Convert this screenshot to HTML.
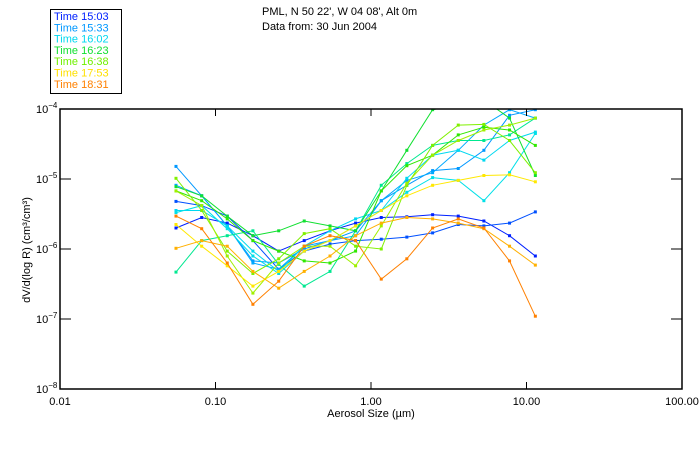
<!DOCTYPE html>
<html>
<head>
<meta charset="utf-8">
<style>
  html,body{margin:0;padding:0;background:#fff;}
  body{width:700px;height:450px;overflow:hidden;font-family:"Liberation Sans","DejaVu Sans",sans-serif;}
  svg text{font-family:"Liberation Sans","DejaVu Sans",sans-serif;font-size:11px;}
</style>
</head>
<body>
<svg id="chart" width="700" height="450" viewBox="0 0 700 450" xmlns="http://www.w3.org/2000/svg">
  <rect x="0" y="0" width="700" height="450" fill="#fff"/>
  <g id="legend">
    <rect x="50.5" y="9.5" width="71" height="84" fill="none" stroke="#000"/>
  </g>
  <text x="262" y="15" fill="#000">PML, N 50 22', W 04 08', Alt 0m</text>
  <text x="262" y="30" fill="#000">Data from: 30 Jun 2004</text>
  <g id="plot"></g>
  <g id="axes"></g>
  <text x="371" y="417" text-anchor="middle" fill="#000">Aerosol Size (µm)</text>
  <text transform="translate(30,250) rotate(-90)" text-anchor="middle" fill="#000">dV/d(log R) (cm³/cm³)</text>
</svg>
<script>
// Particle sizes (µm)
const sizes = [0.0557,0.0815,0.119,0.174,0.255,0.372,0.545,0.796,1.164,1.70,2.49,3.64,5.32,7.78,11.4];
// log10 of dV/d(log R) per series
const seriesA1 = [-5.70,-5.55,-5.63,-5.81,-6.03,-5.88,-5.74,-5.63,-5.55,-5.54,-5.51,-5.53,-5.60,-5.81,-6.10];
const seriesA2 = [-5.32,-5.38,-5.53,-5.88,-6.29,-6.03,-5.93,-5.88,-5.86,-5.83,-5.77,-5.65,-5.67,-5.63,-5.47];
const seriesB1 = [-4.82,-5.24,-5.67,-6.17,-6.20,-6.00,-5.88,-5.74,-5.31,-5.09,-4.88,-4.85,-4.59,-4.09,-4.01];
const seriesB2 = [-5.09,-5.24,-5.67,-6.20,-6.29,-5.96,-5.88,-5.81,-5.31,-5.02,-4.91,-4.59,-4.23,-4.01,-4.13];
const seriesC1 = [-5.45,-5.45,-5.67,-6.03,-6.32,-5.96,-5.74,-5.57,-5.45,-4.99,-4.66,-4.59,-4.73,-4.45,-4.33];
const seriesC2 = [-5.48,-5.38,-5.71,-6.10,-6.35,-6.03,-5.88,-5.67,-5.45,-5.19,-4.98,-5.02,-5.31,-4.91,-4.35];
const seriesD1 = [-6.33,-5.88,-5.81,-5.74,-6.22,-6.53,-6.32,-5.74,-5.09,-4.78,-4.52,-4.45,-4.45,-4.37,-4.13];
const seriesE1 = [-5.11,-5.24,-5.53,-5.81,-5.74,-5.60,-5.67,-5.74,-5.17,-4.59,-4.01,-3.94,-3.87,-4.13,-4.95];
const seriesE2 = [-5.17,-5.31,-5.57,-5.88,-6.03,-6.17,-6.20,-6.03,-5.17,-4.81,-4.66,-4.37,-4.26,-4.30,-4.52];
const seriesF1 = [-4.99,-5.45,-6.03,-6.35,-6.14,-5.78,-5.71,-5.96,-6.00,-5.09,-4.52,-4.23,-4.22,-4.45,-4.91];
const seriesF2 = [-5.17,-5.38,-6.10,-6.63,-6.20,-5.96,-5.96,-6.24,-5.67,-5.06,-4.66,-4.45,-4.30,-4.23,-4.13];
const seriesG1 = [-5.65,-5.96,-6.24,-6.53,-6.32,-6.03,-5.88,-5.67,-5.45,-5.24,-5.09,-5.02,-4.95,-4.94,-5.04];
const seriesG2 = [-5.99,-5.88,-5.96,-6.32,-6.56,-6.32,-6.10,-5.81,-5.63,-5.55,-5.57,-5.63,-5.71,-5.96,-6.23];
const seriesH1 = [-5.53,-5.71,-6.20,-6.79,-6.46,-5.96,-5.81,-5.88,-6.43,-6.14,-5.70,-5.57,-5.70,-6.17,-6.96];
const legendLabels = ["Time 15:03","Time 15:33","Time 16:02","Time 16:23","Time 16:38","Time 17:53","Time 18:31"];
const xTickValues = [0.01,0.1,1,10,100];
const xTickLabels = ["0.01","0.10","1.00","10.00","100.00"];
const yTickExps = [-4,-5,-6,-7,-8];

const colors = ["#0020ff","#0098ff","#00d8f0","#10e030","#70f000","#ffe000","#ff8000"];
const seriesList = [
  {v:seriesA1,c:"#0020ff",n:"series-1503-a"},
  {v:seriesA2,c:"#0050ff",n:"series-1503-b"},
  {v:seriesB1,c:"#0098ff",n:"series-1533-a"},
  {v:seriesB2,c:"#00a8ff",n:"series-1533-b"},
  {v:seriesC1,c:"#00d8f0",n:"series-1602-a"},
  {v:seriesC2,c:"#00e0e8",n:"series-1602-b"},
  {v:seriesD1,c:"#00e890",n:"series-1623-a"},
  {v:seriesE1,c:"#10e030",n:"series-1623-b"},
  {v:seriesE2,c:"#30e800",n:"series-1638-a"},
  {v:seriesF1,c:"#80f000",n:"series-1638-b"},
  {v:seriesF2,c:"#a0f000",n:"series-1753-a"},
  {v:seriesG1,c:"#ffe800",n:"series-1753-b"},
  {v:seriesG2,c:"#ffb000",n:"series-1831-a"},
  {v:seriesH1,c:"#ff8000",n:"series-1831-b"}
];

const L=60,R=682,T=109,B=389;
function xScale(v){ return L + (Math.log10(v)+2)/4*(R-L); }
function yScale(e){ return T + (-4 - e)/4*(B-T); }
const NS="http://www.w3.org/2000/svg";
function mk(tag,attrs,parent){ const el=document.createElementNS(NS,tag); for(const k in attrs) el.setAttribute(k,attrs[k]); parent.appendChild(el); return el; }

const plot=document.getElementById('plot');
const defs=mk('defs',{},document.getElementById('chart'));
const cp=mk('clipPath',{id:'clip'},defs);
mk('rect',{x:L,y:T,width:R-L,height:B-T},cp);
plot.setAttribute('clip-path','url(#clip)');

seriesList.forEach(s=>{
  const g=mk('g',{},plot);
  
  
  const pts=s.v.map((e,i)=>xScale(sizes[i]).toFixed(1)+','+yScale(e).toFixed(1)).join(' ');
  const pl=mk('polyline',{points:pts,fill:'none',stroke:s.c,'stroke-width':1},g);
  
  
  s.v.forEach((e,i)=>{
    const r=mk('rect',{x:xScale(sizes[i])-1.5,y:yScale(e)-1.5,width:3,height:3,fill:s.c},g);
    
    
  });
});

const axes=document.getElementById('axes');
const frame=mk('rect',{x:L,y:T,width:R-L,height:B-T,fill:'none',stroke:'#000','stroke-width':1.5},axes);


xTickValues.forEach((v,i)=>{
  const x=xScale(v);
  const t1=mk('line',{x1:x,y1:B,x2:x,y2:B-7,stroke:'#000'},axes);
  
  
  const t2=mk('line',{x1:x,y1:T,x2:x,y2:T+7,stroke:'#000'},axes);
  
  
  const tx=mk('text',{x:x,y:405,'text-anchor':'middle',fill:'#000'},axes);
  tx.textContent=xTickLabels[i];
  
  
});
yTickExps.forEach(e=>{
  const y=yScale(e);
  const t1=mk('line',{x1:L,y1:y,x2:L+11,y2:y,stroke:'#000'},axes);
  
  
  const t2=mk('line',{x1:R,y1:y,x2:R-11,y2:y,stroke:'#000'},axes);
  
  
  const tx=mk('text',{x:36,y:y+4,fill:'#000'},axes);
  
  
  tx.textContent='10';
  const sup=mk('tspan',{dy:-5,'font-size':'8px'},tx);
  sup.textContent='−'+(-e);
});

const legend=document.getElementById('legend');
legendLabels.forEach((lab,i)=>{
  const t=mk('text',{x:54,y:20+i*11.3,fill:colors[i]},legend);
  t.textContent=lab;
  
  
});
</script>
</body>
</html>
